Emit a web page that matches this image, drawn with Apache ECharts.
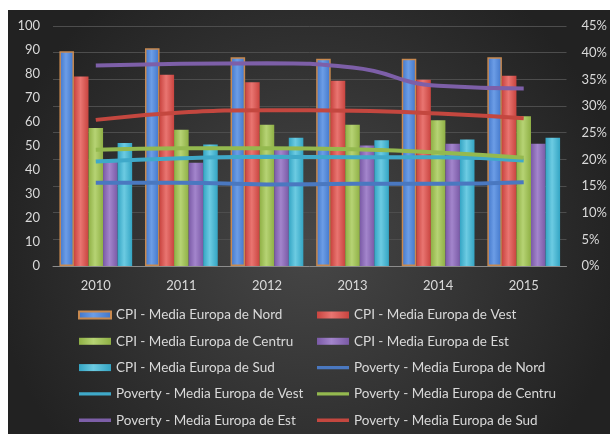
<!DOCTYPE html>
<html>
<head>
<meta charset="utf-8">
<script src="https://cdn.jsdelivr.net/npm/echarts@6/dist/echarts.min.js"></script>
<style>
  html, body { margin: 0; padding: 0; background: #ffffff; }
  #chart { position: absolute; left: 8px; top: 10px; width: 602px; height: 424px; }
</style>
</head>
<body>
<div id="chart"></div>
<script>
// Years on the category axis
const years = ['2010', '2011', '2012', '2013', '2014', '2015'];

// CPI averages per region (left axis, 0-100)
const cpiNord   = [89.5, 90.7, 87.0, 86.4, 86.4, 87.0];
const cpiVest   = [79.0, 79.7, 76.6, 77.2, 77.6, 79.3];
const cpiCentru = [57.5, 56.8, 58.9, 58.9, 60.7, 62.4];
const cpiEst    = [44.0, 43.0, 48.3, 50.2, 50.9, 50.9];
const cpiSud    = [51.3, 50.6, 53.4, 52.4, 52.7, 53.4];

// Poverty averages per region, in percent (right axis)
const povNord   = [15.6, 15.6, 15.3, 15.4, 15.4, 15.7];
const povVest   = [19.6, 20.2, 20.5, 20.4, 20.4, 19.8];
const povCentru = [21.8, 22.1, 22.1, 21.9, 21.3, 20.3];
const povEst    = [37.6, 37.9, 38.0, 37.2, 33.8, 33.3];
const povSud    = [27.4, 28.8, 29.2, 29.1, 28.6, 27.7];

// Axis ranges
const leftMax = 100, leftStep = 10;
const rightMax = 45, rightStep = 5;

const textColor = '#d9d9d9';
const fontFamily = 'Lato, "Open Sans", sans-serif';

// Thin line icon for the line series in the legend: tiny corner specks keep
// the path's box at full icon height so the bar in the middle stays thin.
const lineIcon = 'path://M0,0L0.01,0L0,0.01Z M0,1.8L32,1.8L32,5.2L0,5.2Z M32,7L31.99,7L32,6.99Z';

function barGrad(dark, light) {
  return new echarts.graphic.LinearGradient(0, 0, 1, 0, [
    { offset: 0, color: dark },
    { offset: 0.45, color: light },
    { offset: 1, color: dark }
  ]);
}

function barSeries(name, data, dark, light, border) {
  return {
    name, type: 'bar', data, yAxisIndex: 0,
    barGap: '0%', barCategoryGap: '15%',
    itemStyle: {
      color: barGrad(dark, light),
      borderColor: border || 'rgba(0,0,0,0)',
      borderWidth: border ? 1.5 : 0
    },
    z: 2
  };
}

function lineSeries(name, data, color) {
  return {
    name, type: 'line', data, yAxisIndex: 1,
    smooth: true, symbol: 'none',
    lineStyle: { color, width: 4 },
    itemStyle: { color },
    z: 5
  };
}

const series = [
  barSeries('CPI - Media Europa de Nord', cpiNord, '#3f74c8', '#6c9de6', '#c8894f'),
  barSeries('CPI - Media Europa de Vest', cpiVest, '#c9443f', '#e97571'),
  barSeries('CPI - Media Europa de Centru', cpiCentru, '#8fb045', '#b6d374'),
  barSeries('CPI - Media Europa de Est', cpiEst, '#7a5aa6', '#a385cc'),
  barSeries('CPI - Media Europa de Sud', cpiSud, '#34a5c4', '#6ccbe2'),
  lineSeries('Poverty - Media Europa de Nord', povNord, '#4a78c0'),
  lineSeries('Poverty - Media Europa de Vest', povVest, '#3fa9c9'),
  lineSeries('Poverty - Media Europa de Centru', povCentru, '#94b94f'),
  lineSeries('Poverty - Media Europa de Est', povEst, '#7d5fa8'),
  lineSeries('Poverty - Media Europa de Sud', povSud, '#c4473f')
];

function legendItem(name) {
  return name.indexOf('Poverty') === 0 ? { name, icon: lineIcon } : { name, icon: 'rect' };
}

const legendBase = {
  orient: 'vertical',
  padding: 0,
  itemWidth: 32,
  itemHeight: 7,
  itemGap: 12.3,
  textStyle: { color: textColor, fontSize: 13.5, fontFamily, lineHeight: 14 },
  inactiveColor: '#777'
};

const chart = echarts.init(document.getElementById('chart'), null, { renderer: 'canvas' });
chart.setOption({
  backgroundColor: new echarts.graphic.RadialGradient(0.5, 0.55, 0.75, [
    { offset: 0, color: '#474747' },
    { offset: 1, color: '#222222' }
  ]),
  animation: false,
  grid: { left: 45, top: 16, width: 516, height: 240 },
  legend: [
    Object.assign({}, legendBase, {
      left: 70, top: 298,
      data: [
        'CPI - Media Europa de Nord',
        'CPI - Media Europa de Centru',
        'CPI - Media Europa de Sud',
        'Poverty - Media Europa de Vest',
        'Poverty - Media Europa de Est'
      ].map(legendItem)
    }),
    Object.assign({}, legendBase, {
      left: 309, top: 298,
      data: [
        'CPI - Media Europa de Vest',
        'CPI - Media Europa de Est',
        'Poverty - Media Europa de Nord',
        'Poverty - Media Europa de Centru',
        'Poverty - Media Europa de Sud'
      ].map(legendItem)
    })
  ],
  xAxis: {
    type: 'category', data: years,
    axisLine: { lineStyle: { color: '#8c8c8c', width: 1 } },
    axisTick: { show: false },
    axisLabel: { color: textColor, fontSize: 13, fontFamily, margin: 13 }
  },
  yAxis: [
    {
      type: 'value', min: 0, max: leftMax, interval: leftStep,
      axisLine: { show: false }, axisTick: { show: false },
      splitLine: { show: false },
      axisLabel: { color: textColor, fontSize: 13, fontFamily, margin: 13 }
    },
    {
      type: 'value', min: 0, max: rightMax, interval: rightStep, position: 'right',
      axisLine: { show: false }, axisTick: { show: false },
      splitLine: { show: true, lineStyle: { color: '#4d4d4d', width: 1 } },
      axisLabel: { color: textColor, fontSize: 13, fontFamily, margin: 15, formatter: '{value}%' }
    }
  ],
  series
});
</script>
</body>
</html>
